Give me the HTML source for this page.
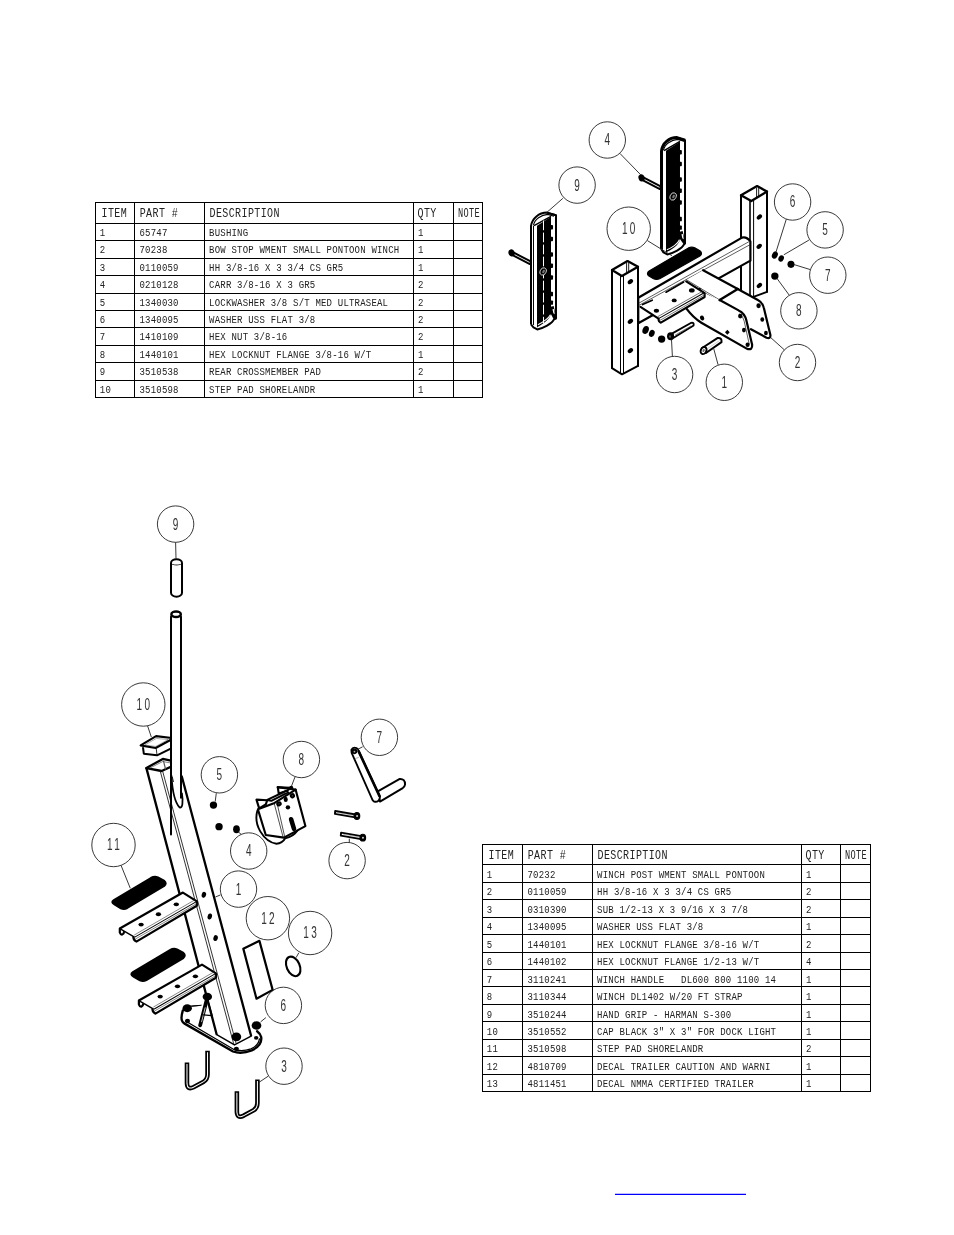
<!DOCTYPE html>
<html lang="en"><head><meta charset="utf-8"><title>Parts Diagram</title>
<style>
html,body{margin:0;padding:0;background:#fff;}
body{width:954px;height:1235px;overflow:hidden;position:relative;}
svg{position:absolute;left:0;top:0;display:block;}
#table1,#table2,#balloons{filter:grayscale(1);}
text{font-family:"Liberation Mono","DejaVu Sans Mono",monospace;fill:#222;}
.t{font-size:9px;}
.h{font-size:10px;}
.b{font-family:"Liberation Sans",sans-serif;font-size:10px;fill:#333;text-anchor:middle;}
.ln{stroke:#000;stroke-width:1;fill:none;shape-rendering:crispEdges;}
.bal{stroke:#222;stroke-width:0.9;fill:none;}
.ld{stroke:#222;stroke-width:0.9;fill:none;}
.B{stroke:#000;stroke-width:1.5;fill:none;stroke-linejoin:round;stroke-linecap:round;}
.M{stroke:#000;stroke-width:1;fill:none;stroke-linejoin:round;stroke-linecap:round;}
.T{stroke:#333;stroke-width:0.6;fill:none;stroke-linejoin:round;stroke-linecap:round;}
.K{fill:#000;stroke:none;}
.WF{fill:#fff;}
</style></head><body>
<svg width="954" height="1235" viewBox="0 0 954 1235">

<g id="table1"><g class="ln">
<line x1="95.00" y1="202.50" x2="483.00" y2="202.50"/>
<line x1="95.00" y1="223.50" x2="483.00" y2="223.50"/>
<line x1="95.00" y1="240.50" x2="483.00" y2="240.50"/>
<line x1="95.00" y1="258.50" x2="483.00" y2="258.50"/>
<line x1="95.00" y1="275.50" x2="483.00" y2="275.50"/>
<line x1="95.00" y1="293.50" x2="483.00" y2="293.50"/>
<line x1="95.00" y1="310.50" x2="483.00" y2="310.50"/>
<line x1="95.00" y1="327.50" x2="483.00" y2="327.50"/>
<line x1="95.00" y1="345.50" x2="483.00" y2="345.50"/>
<line x1="95.00" y1="362.50" x2="483.00" y2="362.50"/>
<line x1="95.00" y1="380.50" x2="483.00" y2="380.50"/>
<line x1="95.00" y1="397.50" x2="483.00" y2="397.50"/>
<line x1="95.50" y1="202.50" x2="95.50" y2="397.50"/>
<line x1="134.50" y1="202.50" x2="134.50" y2="397.50"/>
<line x1="204.50" y1="202.50" x2="204.50" y2="397.50"/>
<line x1="413.50" y1="202.50" x2="413.50" y2="397.50"/>
<line x1="453.50" y1="202.50" x2="453.50" y2="397.50"/>
<line x1="482.50" y1="202.50" x2="482.50" y2="397.50"/>
</g>
<g class="h">
<text transform="translate(101.50 217.10) scale(1 1.27)" letter-spacing="0.40">ITEM</text>
<text transform="translate(139.70 217.10) scale(1 1.27)" letter-spacing="0.40">PART #</text>
<text transform="translate(209.50 217.10) scale(1 1.27)" letter-spacing="0.40">DESCRIPTION</text>
<text transform="translate(417.50 217.10) scale(1 1.27)" letter-spacing="0.40">QTY</text>
<text transform="translate(457.90 217.10) scale(0.86 1.27)" letter-spacing="0.40">NOTE</text>
</g>
<g class="t">
<text transform="translate(99.80 235.90) scale(1 1.13)" letter-spacing="0.2" xml:space="preserve">1</text>
<text transform="translate(139.50 235.90) scale(1 1.13)" letter-spacing="0.2" xml:space="preserve">65747</text>
<text transform="translate(209.10 235.90) scale(1 1.13)" letter-spacing="0.2" xml:space="preserve">BUSHING</text>
<text transform="translate(418.10 235.90) scale(1 1.13)" letter-spacing="0.2" xml:space="preserve">1</text>
<text transform="translate(99.80 253.30) scale(1 1.13)" letter-spacing="0.2" xml:space="preserve">2</text>
<text transform="translate(139.50 253.30) scale(1 1.13)" letter-spacing="0.2" xml:space="preserve">70238</text>
<text transform="translate(209.10 253.30) scale(1 1.13)" letter-spacing="0.2" xml:space="preserve">BOW STOP WMENT SMALL PONTOON WINCH</text>
<text transform="translate(418.10 253.30) scale(1 1.13)" letter-spacing="0.2" xml:space="preserve">1</text>
<text transform="translate(99.80 270.70) scale(1 1.13)" letter-spacing="0.2" xml:space="preserve">3</text>
<text transform="translate(139.50 270.70) scale(1 1.13)" letter-spacing="0.2" xml:space="preserve">0110059</text>
<text transform="translate(209.10 270.70) scale(1 1.13)" letter-spacing="0.2" xml:space="preserve">HH 3/8-16 X 3 3/4 CS GR5</text>
<text transform="translate(418.10 270.70) scale(1 1.13)" letter-spacing="0.2" xml:space="preserve">1</text>
<text transform="translate(99.80 288.10) scale(1 1.13)" letter-spacing="0.2" xml:space="preserve">4</text>
<text transform="translate(139.50 288.10) scale(1 1.13)" letter-spacing="0.2" xml:space="preserve">0210128</text>
<text transform="translate(209.10 288.10) scale(1 1.13)" letter-spacing="0.2" xml:space="preserve">CARR 3/8-16 X 3 GR5</text>
<text transform="translate(418.10 288.10) scale(1 1.13)" letter-spacing="0.2" xml:space="preserve">2</text>
<text transform="translate(99.80 305.50) scale(1 1.13)" letter-spacing="0.2" xml:space="preserve">5</text>
<text transform="translate(139.50 305.50) scale(1 1.13)" letter-spacing="0.2" xml:space="preserve">1340030</text>
<text transform="translate(209.10 305.50) scale(1 1.13)" letter-spacing="0.2" xml:space="preserve">LOCKWASHER 3/8 S/T MED ULTRASEAL</text>
<text transform="translate(418.10 305.50) scale(1 1.13)" letter-spacing="0.2" xml:space="preserve">2</text>
<text transform="translate(99.80 322.90) scale(1 1.13)" letter-spacing="0.2" xml:space="preserve">6</text>
<text transform="translate(139.50 322.90) scale(1 1.13)" letter-spacing="0.2" xml:space="preserve">1340095</text>
<text transform="translate(209.10 322.90) scale(1 1.13)" letter-spacing="0.2" xml:space="preserve">WASHER USS FLAT 3/8</text>
<text transform="translate(418.10 322.90) scale(1 1.13)" letter-spacing="0.2" xml:space="preserve">2</text>
<text transform="translate(99.80 340.30) scale(1 1.13)" letter-spacing="0.2" xml:space="preserve">7</text>
<text transform="translate(139.50 340.30) scale(1 1.13)" letter-spacing="0.2" xml:space="preserve">1410109</text>
<text transform="translate(209.10 340.30) scale(1 1.13)" letter-spacing="0.2" xml:space="preserve">HEX NUT 3/8-16</text>
<text transform="translate(418.10 340.30) scale(1 1.13)" letter-spacing="0.2" xml:space="preserve">2</text>
<text transform="translate(99.80 357.70) scale(1 1.13)" letter-spacing="0.2" xml:space="preserve">8</text>
<text transform="translate(139.50 357.70) scale(1 1.13)" letter-spacing="0.2" xml:space="preserve">1440101</text>
<text transform="translate(209.10 357.70) scale(1 1.13)" letter-spacing="0.2" xml:space="preserve">HEX LOCKNUT FLANGE 3/8-16 W/T</text>
<text transform="translate(418.10 357.70) scale(1 1.13)" letter-spacing="0.2" xml:space="preserve">1</text>
<text transform="translate(99.80 375.10) scale(1 1.13)" letter-spacing="0.2" xml:space="preserve">9</text>
<text transform="translate(139.50 375.10) scale(1 1.13)" letter-spacing="0.2" xml:space="preserve">3510538</text>
<text transform="translate(209.10 375.10) scale(1 1.13)" letter-spacing="0.2" xml:space="preserve">REAR CROSSMEMBER PAD</text>
<text transform="translate(418.10 375.10) scale(1 1.13)" letter-spacing="0.2" xml:space="preserve">2</text>
<text transform="translate(99.80 392.50) scale(1 1.13)" letter-spacing="0.2" xml:space="preserve">10</text>
<text transform="translate(139.50 392.50) scale(1 1.13)" letter-spacing="0.2" xml:space="preserve">3510598</text>
<text transform="translate(209.10 392.50) scale(1 1.13)" letter-spacing="0.2" xml:space="preserve">STEP PAD SHORELANDR</text>
<text transform="translate(418.10 392.50) scale(1 1.13)" letter-spacing="0.2" xml:space="preserve">1</text>
</g></g>
<g id="table2"><g class="ln">
<line x1="482.00" y1="844.50" x2="871.00" y2="844.50"/>
<line x1="482.00" y1="864.50" x2="871.00" y2="864.50"/>
<line x1="482.00" y1="882.50" x2="871.00" y2="882.50"/>
<line x1="482.00" y1="899.50" x2="871.00" y2="899.50"/>
<line x1="482.00" y1="917.50" x2="871.00" y2="917.50"/>
<line x1="482.00" y1="934.50" x2="871.00" y2="934.50"/>
<line x1="482.00" y1="952.50" x2="871.00" y2="952.50"/>
<line x1="482.00" y1="969.50" x2="871.00" y2="969.50"/>
<line x1="482.00" y1="986.50" x2="871.00" y2="986.50"/>
<line x1="482.00" y1="1004.50" x2="871.00" y2="1004.50"/>
<line x1="482.00" y1="1021.50" x2="871.00" y2="1021.50"/>
<line x1="482.00" y1="1039.50" x2="871.00" y2="1039.50"/>
<line x1="482.00" y1="1056.50" x2="871.00" y2="1056.50"/>
<line x1="482.00" y1="1074.50" x2="871.00" y2="1074.50"/>
<line x1="482.00" y1="1091.50" x2="871.00" y2="1091.50"/>
<line x1="482.50" y1="844.50" x2="482.50" y2="1091.50"/>
<line x1="522.50" y1="844.50" x2="522.50" y2="1091.50"/>
<line x1="592.50" y1="844.50" x2="592.50" y2="1091.50"/>
<line x1="801.50" y1="844.50" x2="801.50" y2="1091.50"/>
<line x1="840.50" y1="844.50" x2="840.50" y2="1091.50"/>
<line x1="870.50" y1="844.50" x2="870.50" y2="1091.50"/>
</g>
<g class="h">
<text transform="translate(488.50 858.90) scale(1 1.27)" letter-spacing="0.40">ITEM</text>
<text transform="translate(527.70 858.90) scale(1 1.27)" letter-spacing="0.40">PART #</text>
<text transform="translate(597.50 858.90) scale(1 1.27)" letter-spacing="0.40">DESCRIPTION</text>
<text transform="translate(805.50 858.90) scale(1 1.27)" letter-spacing="0.40">QTY</text>
<text transform="translate(844.90 858.90) scale(0.86 1.27)" letter-spacing="0.40">NOTE</text>
</g>
<g class="t">
<text transform="translate(486.80 877.95) scale(1 1.13)" letter-spacing="0.2" xml:space="preserve">1</text>
<text transform="translate(527.50 877.95) scale(1 1.13)" letter-spacing="0.2" xml:space="preserve">70232</text>
<text transform="translate(597.10 877.95) scale(1 1.13)" letter-spacing="0.2" xml:space="preserve">WINCH POST WMENT SMALL PONTOON</text>
<text transform="translate(806.10 877.95) scale(1 1.13)" letter-spacing="0.2" xml:space="preserve">1</text>
<text transform="translate(486.80 895.40) scale(1 1.13)" letter-spacing="0.2" xml:space="preserve">2</text>
<text transform="translate(527.50 895.40) scale(1 1.13)" letter-spacing="0.2" xml:space="preserve">0110059</text>
<text transform="translate(597.10 895.40) scale(1 1.13)" letter-spacing="0.2" xml:space="preserve">HH 3/8-16 X 3 3/4 CS GR5</text>
<text transform="translate(806.10 895.40) scale(1 1.13)" letter-spacing="0.2" xml:space="preserve">2</text>
<text transform="translate(486.80 912.85) scale(1 1.13)" letter-spacing="0.2" xml:space="preserve">3</text>
<text transform="translate(527.50 912.85) scale(1 1.13)" letter-spacing="0.2" xml:space="preserve">0310390</text>
<text transform="translate(597.10 912.85) scale(1 1.13)" letter-spacing="0.2" xml:space="preserve">SUB 1/2-13 X 3 9/16 X 3 7/8</text>
<text transform="translate(806.10 912.85) scale(1 1.13)" letter-spacing="0.2" xml:space="preserve">2</text>
<text transform="translate(486.80 930.30) scale(1 1.13)" letter-spacing="0.2" xml:space="preserve">4</text>
<text transform="translate(527.50 930.30) scale(1 1.13)" letter-spacing="0.2" xml:space="preserve">1340095</text>
<text transform="translate(597.10 930.30) scale(1 1.13)" letter-spacing="0.2" xml:space="preserve">WASHER USS FLAT 3/8</text>
<text transform="translate(806.10 930.30) scale(1 1.13)" letter-spacing="0.2" xml:space="preserve">1</text>
<text transform="translate(486.80 947.75) scale(1 1.13)" letter-spacing="0.2" xml:space="preserve">5</text>
<text transform="translate(527.50 947.75) scale(1 1.13)" letter-spacing="0.2" xml:space="preserve">1440101</text>
<text transform="translate(597.10 947.75) scale(1 1.13)" letter-spacing="0.2" xml:space="preserve">HEX LOCKNUT FLANGE 3/8-16 W/T</text>
<text transform="translate(806.10 947.75) scale(1 1.13)" letter-spacing="0.2" xml:space="preserve">2</text>
<text transform="translate(486.80 965.20) scale(1 1.13)" letter-spacing="0.2" xml:space="preserve">6</text>
<text transform="translate(527.50 965.20) scale(1 1.13)" letter-spacing="0.2" xml:space="preserve">1440102</text>
<text transform="translate(597.10 965.20) scale(1 1.13)" letter-spacing="0.2" xml:space="preserve">HEX LOCKNUT FLANGE 1/2-13 W/T</text>
<text transform="translate(806.10 965.20) scale(1 1.13)" letter-spacing="0.2" xml:space="preserve">4</text>
<text transform="translate(486.80 982.65) scale(1 1.13)" letter-spacing="0.2" xml:space="preserve">7</text>
<text transform="translate(527.50 982.65) scale(1 1.13)" letter-spacing="0.2" xml:space="preserve">3110241</text>
<text transform="translate(597.10 982.65) scale(1 1.13)" letter-spacing="0.2" xml:space="preserve">WINCH HANDLE   DL600 800 1100 14</text>
<text transform="translate(806.10 982.65) scale(1 1.13)" letter-spacing="0.2" xml:space="preserve">1</text>
<text transform="translate(486.80 1000.10) scale(1 1.13)" letter-spacing="0.2" xml:space="preserve">8</text>
<text transform="translate(527.50 1000.10) scale(1 1.13)" letter-spacing="0.2" xml:space="preserve">3110344</text>
<text transform="translate(597.10 1000.10) scale(1 1.13)" letter-spacing="0.2" xml:space="preserve">WINCH DL1402 W/20 FT STRAP</text>
<text transform="translate(806.10 1000.10) scale(1 1.13)" letter-spacing="0.2" xml:space="preserve">1</text>
<text transform="translate(486.80 1017.55) scale(1 1.13)" letter-spacing="0.2" xml:space="preserve">9</text>
<text transform="translate(527.50 1017.55) scale(1 1.13)" letter-spacing="0.2" xml:space="preserve">3510244</text>
<text transform="translate(597.10 1017.55) scale(1 1.13)" letter-spacing="0.2" xml:space="preserve">HAND GRIP - HARMAN S-300</text>
<text transform="translate(806.10 1017.55) scale(1 1.13)" letter-spacing="0.2" xml:space="preserve">1</text>
<text transform="translate(486.80 1035.00) scale(1 1.13)" letter-spacing="0.2" xml:space="preserve">10</text>
<text transform="translate(527.50 1035.00) scale(1 1.13)" letter-spacing="0.2" xml:space="preserve">3510552</text>
<text transform="translate(597.10 1035.00) scale(1 1.13)" letter-spacing="0.2" xml:space="preserve">CAP BLACK 3&quot; X 3&quot; FOR DOCK LIGHT</text>
<text transform="translate(806.10 1035.00) scale(1 1.13)" letter-spacing="0.2" xml:space="preserve">1</text>
<text transform="translate(486.80 1052.45) scale(1 1.13)" letter-spacing="0.2" xml:space="preserve">11</text>
<text transform="translate(527.50 1052.45) scale(1 1.13)" letter-spacing="0.2" xml:space="preserve">3510598</text>
<text transform="translate(597.10 1052.45) scale(1 1.13)" letter-spacing="0.2" xml:space="preserve">STEP PAD SHORELANDR</text>
<text transform="translate(806.10 1052.45) scale(1 1.13)" letter-spacing="0.2" xml:space="preserve">2</text>
<text transform="translate(486.80 1069.90) scale(1 1.13)" letter-spacing="0.2" xml:space="preserve">12</text>
<text transform="translate(527.50 1069.90) scale(1 1.13)" letter-spacing="0.2" xml:space="preserve">4810709</text>
<text transform="translate(597.10 1069.90) scale(1 1.13)" letter-spacing="0.2" xml:space="preserve">DECAL TRAILER CAUTION AND WARNI</text>
<text transform="translate(806.10 1069.90) scale(1 1.13)" letter-spacing="0.2" xml:space="preserve">1</text>
<text transform="translate(486.80 1087.35) scale(1 1.13)" letter-spacing="0.2" xml:space="preserve">13</text>
<text transform="translate(527.50 1087.35) scale(1 1.13)" letter-spacing="0.2" xml:space="preserve">4811451</text>
<text transform="translate(597.10 1087.35) scale(1 1.13)" letter-spacing="0.2" xml:space="preserve">DECAL NMMA CERTIFIED TRAILER</text>
<text transform="translate(806.10 1087.35) scale(1 1.13)" letter-spacing="0.2" xml:space="preserve">1</text>
</g></g>
<line x1="615" y1="1194.4" x2="746" y2="1194.4" stroke="#0000ff" stroke-width="1.2"/>
<!-- 05_postR.svg -->
<g id="postR" stroke-linejoin="round" stroke-linecap="round">
  <path d="M741,195.2 L757.1,186.1 L767,191.6 L767,291.8 L751.4,297.7 L741,291.6 Z" fill="#fff" stroke="none"/>
  <path d="M741,195.2 L741,291.6 M767,191.6 L767,291.8" fill="none" stroke="#000" stroke-width="2"/>
  <path d="M750,201 L750,297.4" fill="none" stroke="#000" stroke-width="1.6"/>
  <path d="M753.6,200.2 L753.6,296.6" fill="none" stroke="#000" stroke-width="1"/>
  <path d="M751.4,297.7 L767,291.8" fill="none" stroke="#000" stroke-width="1.9"/>
  <path d="M741,195.2 L757.1,186.1 L767,191.6 L751.3,201 Z" fill="#fff" stroke="#000" stroke-width="2.3"/>
  <path d="M756.6,188 L756.6,197 M758.7,188 L758.7,196" fill="none" stroke="#000" stroke-width="0.9"/>
  <g fill="#000">
    <ellipse cx="759.4" cy="217" rx="3" ry="2.1" transform="rotate(-40 759.4 217)"/>
    <ellipse cx="759.2" cy="246.3" rx="3" ry="2.1" transform="rotate(-40 759.2 246.3)"/>
    <ellipse cx="759.4" cy="285.5" rx="3" ry="2.1" transform="rotate(-40 759.4 285.5)"/>
  </g>
</g>
<g id="nutsR" transform="translate(700 170) scale(0.146751)" fill="#000">
  <ellipse cx="510" cy="580" rx="19" ry="26" transform="rotate(25 510 580)"/>
  <ellipse cx="553" cy="603" rx="18" ry="23" transform="rotate(25 553 603)"/>
  <circle cx="620" cy="643" r="24"/>
  <circle cx="510" cy="723" r="25"/>
</g>

<!-- 10_padR.svg -->
<g id="padR" transform="translate(620 125) scale(0.146751)">
  <path d="M162.3,359.4 L280.3,419.9 L271.7,436.5 L153.7,376 Z" fill="#fff" stroke="#000" stroke-width="13.5" stroke-linejoin="round"/>
  <ellipse cx="147" cy="360.5" rx="21" ry="24" fill="#000" transform="rotate(-20 147 360.5)"/>
  <path d="M282.8,178 C288.8,125 335,86 388,86 L443.0,104 L443.0,808 L436,814 C425,842 360,874 322,882 L296,868 L282.8,848 Z" fill="#fff" stroke="none"/>
  <path d="M313.4,176 L408.8,114 L408.8,776 C402,822 342,854 313.4,868 Z" fill="#000"/>
  <path d="M282.8,848 L282.8,178 C288.8,125 335,86 388,86 L443.0,104" fill="none" stroke="#000" stroke-width="20.4" stroke-linejoin="round"/>
  <path d="M388,86 L443.0,104 L443.0,808 L436,814 C425,842 360,874 322,882 L296,868 L282.8,848" fill="none" stroke="#000" stroke-width="13.6" stroke-linejoin="round"/>
  <path d="M296,172 C304,132 348,100 394,98 L436,110" fill="none" stroke="#000" stroke-width="7"/>
  <path d="M300,174 L408.8,112" fill="none" stroke="#000" stroke-width="10"/>
  <g fill="#000">
    <rect x="404.8" y="171" width="16.7" height="30" rx="6"/>
    <rect x="404.8" y="251" width="16.7" height="30" rx="6"/>
    <rect x="404.8" y="356" width="16.7" height="30" rx="6"/>
    <rect x="404.8" y="433" width="16.7" height="30" rx="6"/>
    <rect x="404.8" y="513" width="16.7" height="30" rx="6"/>
    <rect x="404.8" y="626" width="16.7" height="30" rx="6"/>
    <rect x="404.8" y="684" width="16.7" height="30" rx="6"/>
  </g>
  <path d="M406.8,728 L426.8,722 L443.0,792 L443.0,810 L434,812 L406.8,775 Z" fill="#000"/>
  <path d="M418.8,745 L428.8,742 L434.8,778 L424.8,772 Z" fill="#fff"/>
  <path d="M319.4,850 C350,838 396,810 404.8,782" fill="none" stroke="#fff" stroke-width="7"/>
  <path d="M296,836 L306,850" fill="none" stroke="#fff" stroke-width="5"/>
  <ellipse cx="362" cy="487" rx="20" ry="26" fill="#000" stroke="#ddd" stroke-width="6" transform="rotate(25 362 487)"/>
  <ellipse cx="365" cy="487" rx="8" ry="13" fill="#777" transform="rotate(25 365 487)"/>
</g>

<!-- 11_padL.svg -->
<g id="padL" transform="translate(490 200) scale(0.146751)">
  <path d="M162.3,359.4 L280.3,419.9 L271.7,436.5 L153.7,376 Z" fill="#fff" stroke="#000" stroke-width="13.5" stroke-linejoin="round"/>
  <ellipse cx="147" cy="360.5" rx="21" ry="24" fill="#000" transform="rotate(-20 147 360.5)"/>
  <path d="M279.4,178 C285.4,125 335,86 388,86 L449.7,104 L449.7,808 L436,814 C425,842 360,874 322,882 L296,868 L279.4,848 Z" fill="#fff" stroke="none"/>
  <path d="M320.3,176 L415.7,114 L415.7,776 C402,822 342,854 320.3,868 Z" fill="#000"/>
  <path d="M279.4,848 L279.4,178 C285.4,125 335,86 388,86 L449.7,104" fill="none" stroke="#000" stroke-width="13.6" stroke-linejoin="round"/>
  <path d="M388,86 L449.7,104 L449.7,808 L436,814 C425,842 360,874 322,882 L296,868 L279.4,848" fill="none" stroke="#000" stroke-width="13.6" stroke-linejoin="round"/>
  <path d="M296,172 C304,132 348,100 394,98 L436,110" fill="none" stroke="#000" stroke-width="7"/>
  <path d="M300,174 L415.7,112" fill="none" stroke="#000" stroke-width="10"/>
  <g fill="#000">
    <rect x="411.7" y="171" width="17.8" height="30" rx="6"/>
    <rect x="411.7" y="251" width="17.8" height="30" rx="6"/>
    <rect x="411.7" y="356" width="17.8" height="30" rx="6"/>
    <rect x="411.7" y="433" width="17.8" height="30" rx="6"/>
    <rect x="411.7" y="513" width="17.8" height="30" rx="6"/>
    <rect x="411.7" y="626" width="17.8" height="30" rx="6"/>
    <rect x="411.7" y="684" width="17.8" height="30" rx="6"/>
  </g>
  <path d="M413.7,728 L433.7,722 L449.7,792 L449.7,810 L434,812 L413.7,775 Z" fill="#000"/>
  <path d="M425.7,745 L435.7,742 L441.7,778 L431.7,772 Z" fill="#fff"/>
  <path d="M326.3,850 C350,838 396,810 411.7,782" fill="none" stroke="#fff" stroke-width="7"/>
  <path d="M296,836 L306,850" fill="none" stroke="#fff" stroke-width="5"/>
  <path d="M364.6,140 L364.6,840" fill="none" stroke="#fff" stroke-width="6.8" stroke-dasharray="66 16"/>
  <path d="M296.4,176 L296.4,852" fill="none" stroke="#000" stroke-width="6.8"/>
  <ellipse cx="362" cy="487" rx="20" ry="26" fill="#000" stroke="#ddd" stroke-width="6" transform="rotate(25 362 487)"/>
  <ellipse cx="365" cy="487" rx="8" ry="13" fill="#777" transform="rotate(25 365 487)"/>
</g>

<!-- 20_beam.svg -->
<g id="beam" transform="translate(650 220) scale(0.146751)" stroke-linejoin="round" stroke-linecap="round">
  <!-- step pad -->
  <path d="M-6,348 L262,190 Q285,180 305,190 L340,210 Q362,228 340,246 L66,400 Q44,410 24,400 L-10,380 Q-26,364 -6,348 Z" fill="#000" stroke="#000" stroke-width="8"/>
  <!-- beam -->
  <path d="M-80,530 L627,120 Q658,112 684,146 L684,277 L-80,704 Z" fill="#fff" stroke="#000" stroke-width="15"/>
  <path d="M-80,569 L672,149" fill="none" stroke="#222" stroke-width="5"/>
  <path d="M-80,584 L682,168" fill="none" stroke="#222" stroke-width="5"/>
</g>

<!-- 21_bowstop.svg -->
<g id="bowstop" transform="translate(650 220) scale(0.146751)" stroke-linejoin="round" stroke-linecap="round">
  <!-- far plate -->
  <path d="M598,470 L735,545 Q768,562 776,600 L820,782 Q824,812 794,802 L640,720 L560,500 Z" fill="#fff" stroke="none"/>
  <path d="M598,470 L735,545 Q768,562 776,600 L820,782 Q824,812 794,802 L688,744" fill="none" stroke="#000" stroke-width="15"/>
  <g fill="#000">
    <ellipse cx="740" cy="585" rx="15" ry="17"/>
    <ellipse cx="765" cy="678" rx="13" ry="16"/>
    <ellipse cx="790" cy="770" rx="13" ry="15"/>
  </g>
  <!-- top plate -->
  <path d="M250,408 L362,342 L598,470 L475,545 Z" fill="#fff" stroke="none"/>
  <path d="M362,342 L598,470" fill="none" stroke="#000" stroke-width="15"/>
  <path d="M250,408 L475,545 M252,422 L468,553" fill="none" stroke="#222" stroke-width="5"/>
  <!-- near plate -->
  <path d="M475,545 L604,616 Q646,636 656,682 L696,850 Q700,888 662,878 L350,700 Q290,660 250,605 L372,500 Z" fill="#fff" stroke="none"/>
  <path d="M475,545 L604,616 Q646,636 656,682 L696,850 Q700,888 662,878 L350,700 Q290,660 250,605" fill="none" stroke="#000" stroke-width="15"/>
  <path d="M610,640 Q634,652 642,690 L676,846" fill="none" stroke="#222" stroke-width="5"/>
  <path d="M475,545 L598,470" fill="none" stroke="#000" stroke-width="17"/>
  <g fill="#000">
    <ellipse cx="355" cy="668" rx="14" ry="17" transform="rotate(-30 355 668)"/>
    <path d="M527,748 L543,765 L527,782 L511,765 Z"/>
    <ellipse cx="615" cy="655" rx="15" ry="17"/>
    <ellipse cx="640" cy="750" rx="13" ry="16"/>
    <ellipse cx="665" cy="850" rx="14" ry="16"/>
  </g>
</g>

<!-- 22_stepbracket.svg -->
<g id="stepbr" transform="translate(630 270) scale(0.083857)" stroke-linejoin="round" stroke-linecap="round">
  <path d="M125,440 L660,135 L890,275 L890,322 L368,628 Q340,620 340,582 Z" fill="#fff" stroke="none"/>
  <path d="M125,440 L340,580 Q338,618 368,628 L890,322 L890,275 L670,135" fill="none" stroke="#000" stroke-width="25"/>
  <path d="M340,580 L885,272" fill="none" stroke="#000" stroke-width="13"/>
  <path d="M358,600 L888,296" fill="none" stroke="#333" stroke-width="8"/>
  <path d="M332,556 L850,262" fill="none" stroke="#333" stroke-width="8"/>
  <path d="M430,265 L640,142" fill="none" stroke="#000" stroke-width="20"/>
  <path d="M150,412 L265,360" fill="none" stroke="#000" stroke-width="20"/>
  <g fill="#000">
    <ellipse cx="315" cy="485" rx="32" ry="24"/>
    <ellipse cx="527" cy="363" rx="30" ry="22"/>
    <ellipse cx="737" cy="243" rx="34" ry="24"/>
  </g>
</g>

<!-- 30_postL.svg -->
<g id="postL" stroke-linejoin="round" stroke-linecap="round">
  <path d="M612,270 L627.5,261.1 L638,266.8 L638,365.9 L622,374.4 L612,368.1 Z" fill="#fff" stroke="none"/>
  <path d="M612,270 L612,368.1 M638,266.8 L638,365.9" fill="none" stroke="#000" stroke-width="2"/>
  <path d="M620.5,276 L620.5,373.6 M623.5,275.4 L623.5,373.6" fill="none" stroke="#000" stroke-width="1"/>
  <path d="M612,368.1 L622,374.4 L638,365.9" fill="none" stroke="#000" stroke-width="1.9"/>
  <path d="M612,270 L627.5,261.1 L638,266.8 L621.9,276 Z" fill="#fff" stroke="#000" stroke-width="2.3"/>
  <path d="M626.6,263 L626.6,272 M628.7,263 L628.7,271" fill="none" stroke="#000" stroke-width="0.9"/>
  <g fill="#000">
    <ellipse cx="630.4" cy="281.7" rx="3" ry="2.1" transform="rotate(-40 630.4 281.7)"/>
    <ellipse cx="630.4" cy="321.4" rx="3" ry="2.1" transform="rotate(-40 630.4 321.4)"/>
    <ellipse cx="630.4" cy="350.6" rx="3" ry="2.1" transform="rotate(-40 630.4 350.6)"/>
  </g>
</g>
<g id="nutsL" transform="translate(600 250) scale(0.146751)">
  <g fill="#000">
  <ellipse cx="311" cy="545" rx="21" ry="28" transform="rotate(20 311 545)"/>
  <ellipse cx="353" cy="568" rx="19" ry="25" transform="rotate(20 353 568)"/>
  <circle cx="420" cy="607" r="25"/>
  </g>
  <!-- bolt 3 -->
  <path d="M490,570 L622,496 Q642,493 638,514 L502,598 Z" fill="#fff" stroke="#000" stroke-width="12.5" stroke-linejoin="round"/>
  <path d="M512,580 L620,518" stroke="#444" stroke-width="5" fill="none"/>
  <ellipse cx="481" cy="588" rx="24" ry="27" fill="#000"/>
  <ellipse cx="477" cy="590" rx="7" ry="9" fill="#555"/>
  <!-- bushing 1 -->
  <path d="M696,668 L800,600 Q832,596 828,628 L722,702 Z" fill="#fff" stroke="#000" stroke-width="13.5" stroke-linejoin="round"/>
  <ellipse cx="706" cy="685" rx="19" ry="25" fill="#fff" stroke="#000" stroke-width="13.5" transform="rotate(25 706 685)"/>
  <ellipse cx="706" cy="685" rx="7" ry="11" fill="#666" transform="rotate(25 706 685)"/>
  <path d="M732,672 L814,618" stroke="#999" stroke-width="3" fill="none"/>
</g>

<!-- 40_base.svg -->
<g id="base" transform="translate(130 930) scale(0.146751)" stroke-linejoin="round" stroke-linecap="round">
  <path d="M360,548 Q344,596 356,622 L368,636 L702,828 Q760,848 830,820 Q902,788 894,730 Q882,694 840,672 L520,480 Z" fill="#fff" stroke="none"/>
  <path d="M360,548 Q346,596 354,618 Q358,630 372,638 L702,828 Q760,848 830,820 Q902,788 894,730 Q888,706 866,690" fill="none" stroke="#000" stroke-width="16"/>
  <path d="M378,620 L708,814 Q765,832 824,810 Q876,788 882,742" fill="none" stroke="#000" stroke-width="9"/>
  <path d="M400,520 L470,515" fill="none" stroke="#000" stroke-width="7"/>
</g>

<!-- 42_post2.svg -->
<g id="post2" stroke-linejoin="round" stroke-linecap="round">
  <!-- cap item 10 -->
  <g transform="translate(135 730) scale(0.062893)">
    <path d="M90,244 L335,98 L585,128 L585,290 L350,402 L140,376 L128,290 Z" fill="#fff" stroke="none"/>
    <path d="M585,128 L335,98 L90,244 L328,286 L585,148" fill="none" stroke="#000" stroke-width="34"/>
    <path d="M128,285 L140,376 L350,402 L585,288" fill="none" stroke="#000" stroke-width="32"/>
    <path d="M338,300 L350,396" fill="none" stroke="#111" stroke-width="14"/>
    <path d="M160,236 L340,134 L525,152 L335,258 Z" fill="none" stroke="#444" stroke-width="7"/>
  </g>
  <!-- post -->
  <path d="M146.4,768.1 L162.8,758.9 L180,762.6 L181.6,775.8 L251.1,1035.7 L234.2,1044.5 L216.6,1034.2 Z" fill="#fff" stroke="none"/>
  <path d="M180,762.6 L162.8,758.9 L146.4,768.1 L216.6,1034.2 M181.8,776.5 L251.1,1035.7" fill="none" stroke="#000" stroke-width="2.3"/>
  <path d="M146.4,768.1 L161.6,771 L180,762.6" fill="none" stroke="#000" stroke-width="2.3"/>
  <path d="M160.2,771 L233.6,1043.5 M162.6,771 L236,1043" fill="none" stroke="#111" stroke-width="0.85"/>
  <path d="M150,768 L162.8,761.5 L176,764" fill="none" stroke="#333" stroke-width="0.6"/>
  <path d="M163.5,761 L165.5,769" fill="none" stroke="#555" stroke-width="1.2"/>
  <!-- holes on post face -->
  <g fill="#000">
    <ellipse cx="203.9" cy="894.8" rx="2.2" ry="3" transform="rotate(15 203.9 894.8)"/>
    <ellipse cx="209.8" cy="916.5" rx="2.2" ry="3" transform="rotate(15 209.8 916.5)"/>
    <ellipse cx="215.6" cy="938.1" rx="2.2" ry="3" transform="rotate(15 215.6 938.1)"/>
  </g>
  <!-- pole -->
  <g transform="translate(110 720) scale(0.146751)">
    <path d="M415,-720 L415,400 C424,470 440,560 474,596 C494,602 500,560 490,500 L486,380 L486,-720 Z" fill="#fff" stroke="none"/>
    <path d="M415.7,-705 L415.7,780" fill="none" stroke="#000" stroke-width="13.63"/>
    <path d="M483.8,-705 L483.8,530" fill="none" stroke="#000" stroke-width="13.63"/>
    <path d="M419,380 C424,470 440,560 474,596 C494,602 500,560 490,500" fill="none" stroke="#000" stroke-width="12"/>
    <path d="M425,390 L432,420" fill="none" stroke="#000" stroke-width="6"/>
  </g>
  <!-- pole top ellipse & grip (tile E) -->
  <g transform="translate(110 540) scale(0.146751)">
    <ellipse cx="450.4" cy="505.6" rx="32" ry="18.5" fill="#fff" stroke="#000" stroke-width="17"/>
    <rect x="415.7" y="131" width="75" height="255" rx="37" ry="26" fill="#fff" stroke="#000" stroke-width="13.63"/>
    <path d="M426,166 Q453,176 480,166" fill="none" stroke="#222" stroke-width="7"/>
  </g>
</g>

<!-- 44_steps.svg -->
<g id="steps" transform="translate(100 850) scale(0.146751)" stroke-linejoin="round" stroke-linecap="round">
  <g id="step1">
    <path d="M94,340 L346,190 Q372,176 395,186 L436,208 Q460,226 438,246 L186,396 Q164,408 142,398 L98,372 Q70,356 94,340 Z" fill="#000" stroke="#000" stroke-width="12"/>
    <path d="M135,535 L565,290 L660,350 L660,380 L250,622 Q232,618 228,594 L160,574 Q136,580 135,535 Z" fill="#fff" stroke="none"/>
    <path d="M227,594 Q230,618 248,624 L660,380 L660,350 L565,290 L135,535 L135,562 Q140,578 152,576 Q164,572 163,560" fill="none" stroke="#000" stroke-width="15"/>
    <path d="M135,535 L232,592" fill="none" stroke="#000" stroke-width="10"/>
    <path d="M240,592 L660,350" fill="none" stroke="#000" stroke-width="7"/>
    <path d="M242,606 L658,366 M236,578 L646,340" fill="none" stroke="#333" stroke-width="4"/>
    <g fill="#000">
      <ellipse cx="280" cy="508" rx="18" ry="13"/>
      <ellipse cx="398" cy="438" rx="18" ry="13"/>
      <ellipse cx="520" cy="370" rx="18" ry="13"/>
    </g>
  </g>
  <g id="step2" transform="translate(130 491)">
    <path d="M94,340 L346,190 Q372,176 395,186 L436,208 Q460,226 438,246 L186,396 Q164,408 142,398 L98,372 Q70,356 94,340 Z" fill="#000" stroke="#000" stroke-width="12"/>
    <path d="M135,535 L565,290 L660,350 L660,380 L250,622 Q232,618 228,594 L160,574 Q136,580 135,535 Z" fill="#fff" stroke="none"/>
    <path d="M227,594 Q230,618 248,624 L660,380 L660,350 L565,290 L135,535 L135,562 Q140,578 152,576 Q164,572 163,560" fill="none" stroke="#000" stroke-width="15"/>
    <path d="M135,535 L232,592" fill="none" stroke="#000" stroke-width="10"/>
    <path d="M240,592 L660,350" fill="none" stroke="#000" stroke-width="7"/>
    <path d="M242,606 L658,366 M236,578 L646,340" fill="none" stroke="#333" stroke-width="4"/>
    <g fill="#000">
      <ellipse cx="280" cy="508" rx="18" ry="13"/>
      <ellipse cx="398" cy="438" rx="18" ry="13"/>
      <ellipse cx="520" cy="370" rx="18" ry="13"/>
    </g>
  </g>
</g>

<!-- 46_basebits.svg -->
<g id="basebits" transform="translate(130 930) scale(0.146751)" stroke-linejoin="round" stroke-linecap="round">
  <!-- post bottom edges -->
  <path d="M594,714 L712,783 L822,725" fill="none" stroke="#000" stroke-width="10"/>
  <!-- gusset -->
  <path d="M527,460 L478,650" fill="none" stroke="#000" stroke-width="26"/>
  <path d="M512,530 L488,625" fill="none" stroke="#fff" stroke-width="5"/>
  <path d="M527,465 L562,592 M500,578 L558,584" fill="none" stroke="#000" stroke-width="8"/>
  <path d="M420,520 L485,512" fill="none" stroke="#000" stroke-width="7"/>
  <g fill="#000">
    <ellipse cx="390" cy="533" rx="32" ry="27"/>
    <ellipse cx="527" cy="455" rx="32" ry="27"/>
    <ellipse cx="725" cy="728" rx="33" ry="30"/>
    <ellipse cx="862" cy="650" rx="33" ry="29"/>
    <ellipse cx="392" cy="620" rx="17" ry="15"/>
    <ellipse cx="725" cy="810" rx="17" ry="15"/>
    <ellipse cx="860" cy="735" rx="15" ry="13"/>
  </g>
  <!-- decal 12 -->
  <path d="M772,127 L882,74 L972,408 L862,468 Z" fill="#fff" stroke="#000" stroke-width="15"/>
</g>
<g id="ubolts" transform="translate(150 1020) scale(0.146751)" fill="none" stroke-linejoin="round">
  <path id="ub" d="M252,290 L252,432 Q254,478 296,458 L366,420 Q392,404 392,370 L392,210" stroke="#000" stroke-width="31"/>
  <path d="M252,300 L252,432 Q254,478 296,458 L366,420 Q392,404 392,370 L392,220" stroke="#fff" stroke-width="7"/>
  <path d="M592,485 L592,627 Q594,673 636,653 L706,615 Q732,599 732,565 L732,405" stroke="#000" stroke-width="31"/>
  <path d="M592,495 L592,627 Q594,673 636,653 L706,615 Q732,599 732,565 L732,415" stroke="#fff" stroke-width="7"/>
</g>
<g id="dots2" transform="translate(110 720) scale(0.146751)" fill="#000">
  <circle cx="705" cy="580" r="25"/>
  <circle cx="743" cy="727" r="25"/>
  <ellipse cx="862" cy="745" rx="23" ry="27"/>
</g>
<g id="oring">
  <ellipse cx="293.2" cy="966.4" rx="6.5" ry="10.3" fill="#fff" stroke="#000" stroke-width="2.1" transform="rotate(-24 293.2 966.4)"/>
</g>

<!-- 48_winch.svg -->
<g id="winch" transform="translate(250 780) scale(0.073375)" stroke-linejoin="round" stroke-linecap="round">
  <path d="M100,420 Q60,560 140,700 Q230,850 360,868 Q440,866 480,795 Q590,770 645,690" fill="none" stroke="#000" stroke-width="26"/>
  <!-- ears -->
  <path d="M88,268 L235,276 L215,332 L125,386 Z" fill="#fff" stroke="#000" stroke-width="29"/>
  <path d="M378,98 L560,105 L500,150 L392,185 Z" fill="#fff" stroke="#000" stroke-width="29"/>
  <!-- left face -->
  <path d="M108,400 L335,312 L622,132 L755,628 L462,785 L215,750 Z" fill="#fff" stroke="#000" stroke-width="29"/>
  <!-- top bar -->
  <path d="M235,272 L490,150 L520,168 L290,284 Z" fill="#fff" stroke="#000" stroke-width="27"/>
  <path d="M378,98 L622,132" fill="none" stroke="#000" stroke-width="30"/>
  <circle cx="562" cy="106" r="28" fill="#000"/>
  <path d="M330,320 L450,775 M372,330 L472,770" fill="none" stroke="#111" stroke-width="10"/>
  <g fill="#000">
    <ellipse cx="395" cy="325" rx="38" ry="34" transform="rotate(-30 395 325)"/>
    <ellipse cx="487" cy="265" rx="28" ry="36"/>
    <ellipse cx="578" cy="215" rx="36" ry="34" transform="rotate(-30 578 215)"/>
    <circle cx="517" cy="373" r="30"/>
    <path d="M560,535 L600,665" stroke="#000" stroke-width="62" fill="none"/>
  </g>
  <g fill="#555">
    <ellipse cx="395" cy="325" rx="10" ry="7" transform="rotate(-30 395 325)"/>
    <ellipse cx="578" cy="215" rx="10" ry="7" transform="rotate(-30 578 215)"/>
  </g>
</g>
<g id="handle" transform="translate(300 700) scale(0.146751)" stroke-linejoin="round" stroke-linecap="round">
  <!-- grip -->
  <path d="M530,622 L680,538 Q716,536 716,575 Q714,590 700,600 L545,692 Z" fill="#fff" stroke="#000" stroke-width="13.5"/>
  <!-- arm -->
  <path d="M350,340 Q360,318 385,328 Q398,336 402,352 L545,660 Q540,700 505,692 Q495,688 490,672 L352,360 Z" fill="#fff" stroke="#000" stroke-width="12.5"/>
  <path d="M400,350 L542,655" fill="none" stroke="#000" stroke-width="18"/>
  <circle cx="371" cy="350" r="15" fill="#000" stroke="#000" stroke-width="8"/>
  <circle cx="371" cy="351" r="6" fill="#aaa"/>
  <path d="M375,400 L398,392" fill="none" stroke="#777" stroke-width="4"/>
</g>
<g id="bolts2" transform="translate(300 700) scale(0.146751)" stroke-linejoin="round" stroke-linecap="round">
  <g id="boltA">
    <path d="M240,756 L378,780 L376,800 L238,776 Z" fill="#fff" stroke="#000" stroke-width="13"/>
    <path d="M255,767 L365,786" fill="none" stroke="#777" stroke-width="3"/>
    <ellipse cx="388" cy="790" rx="19" ry="23" fill="#000" stroke="#000" stroke-width="8"/>
    <circle cx="389" cy="790" r="7" fill="#ccc"/>
  </g>
  <g transform="translate(40 148)">
    <path d="M240,756 L378,780 L376,800 L238,776 Z" fill="#fff" stroke="#000" stroke-width="13"/>
    <path d="M255,767 L365,786" fill="none" stroke="#777" stroke-width="3"/>
    <ellipse cx="388" cy="790" rx="19" ry="23" fill="#000" stroke="#000" stroke-width="8"/>
    <circle cx="389" cy="790" r="7" fill="#ccc"/>
  </g>
</g>

<!-- 90_balloons.svg -->
<g id="balloons">
<line class="ld" x1="619.9" y1="153.4" x2="640.9" y2="175"/>
<line class="ld" x1="562.9" y1="198.3" x2="546.5" y2="212.7"/>
<line class="ld" x1="647.4" y1="240.6" x2="671.9" y2="255.7"/>
<line class="ld" x1="786.3" y1="219.2" x2="775.8" y2="252.7"/>
<line class="ld" x1="808.9" y1="240.1" x2="783.8" y2="254.8"/>
<line class="ld" x1="810" y1="269.5" x2="793.8" y2="264.5"/>
<line class="ld" x1="789.2" y1="295.1" x2="776.9" y2="278.3"/>
<line class="ld" x1="784.4" y1="349.9" x2="770.4" y2="337.3"/>
<line class="ld" x1="671.5" y1="339.8" x2="672.4" y2="356.4"/>
<line class="ld" x1="713.7" y1="348.6" x2="718.1" y2="364.8"/>
<line class="ld" x1="175.6" y1="542.3" x2="176" y2="558.7"/>
<line class="ld" x1="147.5" y1="725.7" x2="151.3" y2="737"/>
<line class="ld" x1="216.3" y1="793.2" x2="215.2" y2="801.6"/>
<line class="ld" x1="121.1" y1="865.5" x2="130.3" y2="888.3"/>
<line class="ld" x1="241.4" y1="834.5" x2="237.7" y2="831.4"/>
<line class="ld" x1="295.1" y1="776.7" x2="291.4" y2="786.4"/>
<line class="ld" x1="362.6" y1="746.8" x2="357" y2="749.7"/>
<line class="ld" x1="349.3" y1="842.4" x2="349.3" y2="838.6"/>
<line class="ld" x1="220.5" y1="894.9" x2="215.4" y2="897"/>
<line class="ld" x1="298.8" y1="952.8" x2="296.1" y2="957.6"/>
<line class="ld" x1="265.9" y1="1017.6" x2="260.7" y2="1021.8"/>
<line class="ld" x1="268" y1="1076.3" x2="258.6" y2="1082.6"/>
<circle class="bal" fill="none" cx="607.3" cy="140.0" r="18.2"/>
<text class="b" transform="translate(607.3 145.4) scale(1 1.56)">4</text>
<circle class="bal" fill="none" cx="577.1" cy="185.1" r="18.2"/>
<text class="b" transform="translate(577.1 190.5) scale(1 1.56)">9</text>
<circle class="bal" fill="none" cx="628.7" cy="228.7" r="21.7"/>
<text class="b" transform="translate(629.8 234.1) scale(1 1.56)" letter-spacing="2.3">10</text>
<circle class="bal" fill="none" cx="792.6" cy="202.0" r="18.2"/>
<text class="b" transform="translate(792.6 207.4) scale(1 1.56)">6</text>
<circle class="bal" fill="none" cx="825.1" cy="229.9" r="18.2"/>
<text class="b" transform="translate(825.1 235.3) scale(1 1.56)">5</text>
<circle class="bal" fill="none" cx="827.8" cy="275.2" r="18.2"/>
<text class="b" transform="translate(827.8 280.6) scale(1 1.56)">7</text>
<circle class="bal" fill="none" cx="798.9" cy="310.8" r="18.2"/>
<text class="b" transform="translate(798.9 316.2) scale(1 1.56)">8</text>
<circle class="bal" fill="none" cx="797.5" cy="362.5" r="18.2"/>
<text class="b" transform="translate(797.5 367.9) scale(1 1.56)">2</text>
<circle class="bal" fill="none" cx="674.6" cy="374.5" r="18.2"/>
<text class="b" transform="translate(674.6 379.9) scale(1 1.56)">3</text>
<circle class="bal" fill="none" cx="724.3" cy="382.3" r="18.2"/>
<text class="b" transform="translate(724.3 387.7) scale(1 1.56)">1</text>
<circle class="bal" fill="none" cx="175.6" cy="524.1" r="18.2"/>
<text class="b" transform="translate(175.6 529.5) scale(1 1.56)">9</text>
<circle class="bal" fill="none" cx="143.3" cy="704.5" r="21.7"/>
<text class="b" transform="translate(144.4 709.9) scale(1 1.56)" letter-spacing="2.3">10</text>
<circle class="bal" fill="none" cx="219.4" cy="774.8" r="18.2"/>
<text class="b" transform="translate(219.4 780.2) scale(1 1.56)">5</text>
<circle class="bal" fill="none" cx="113.5" cy="845.0" r="21.7"/>
<text class="b" transform="translate(114.6 850.4) scale(1 1.56)" letter-spacing="2.3">11</text>
<circle class="bal" fill="none" cx="248.7" cy="851.0" r="18.2"/>
<text class="b" transform="translate(248.7 856.4) scale(1 1.56)">4</text>
<circle class="bal" fill="none" cx="301.4" cy="759.5" r="18.2"/>
<text class="b" transform="translate(301.4 764.9) scale(1 1.56)">8</text>
<circle class="bal" fill="none" cx="379.4" cy="737.3" r="18.2"/>
<text class="b" transform="translate(379.4 742.7) scale(1 1.56)">7</text>
<circle class="bal" fill="none" cx="347.1" cy="860.6" r="18.2"/>
<text class="b" transform="translate(347.1 866.0) scale(1 1.56)">2</text>
<circle class="bal" fill="none" cx="238.5" cy="889.1" r="18.2"/>
<text class="b" transform="translate(238.5 894.5) scale(1 1.56)">1</text>
<circle class="bal" fill="none" cx="267.9" cy="918.2" r="21.7"/>
<text class="b" transform="translate(269.0 923.6) scale(1 1.56)" letter-spacing="2.3">12</text>
<circle class="bal" fill="none" cx="310.1" cy="933.0" r="21.7"/>
<text class="b" transform="translate(311.2 938.4) scale(1 1.56)" letter-spacing="2.3">13</text>
<circle class="bal" fill="none" cx="283.4" cy="1005.4" r="18.2"/>
<text class="b" transform="translate(283.4 1010.8) scale(1 1.56)">6</text>
<circle class="bal" fill="none" cx="284.0" cy="1066.2" r="18.2"/>
<text class="b" transform="translate(284.0 1071.6) scale(1 1.56)">3</text>
</g>
</svg>
</body></html>
